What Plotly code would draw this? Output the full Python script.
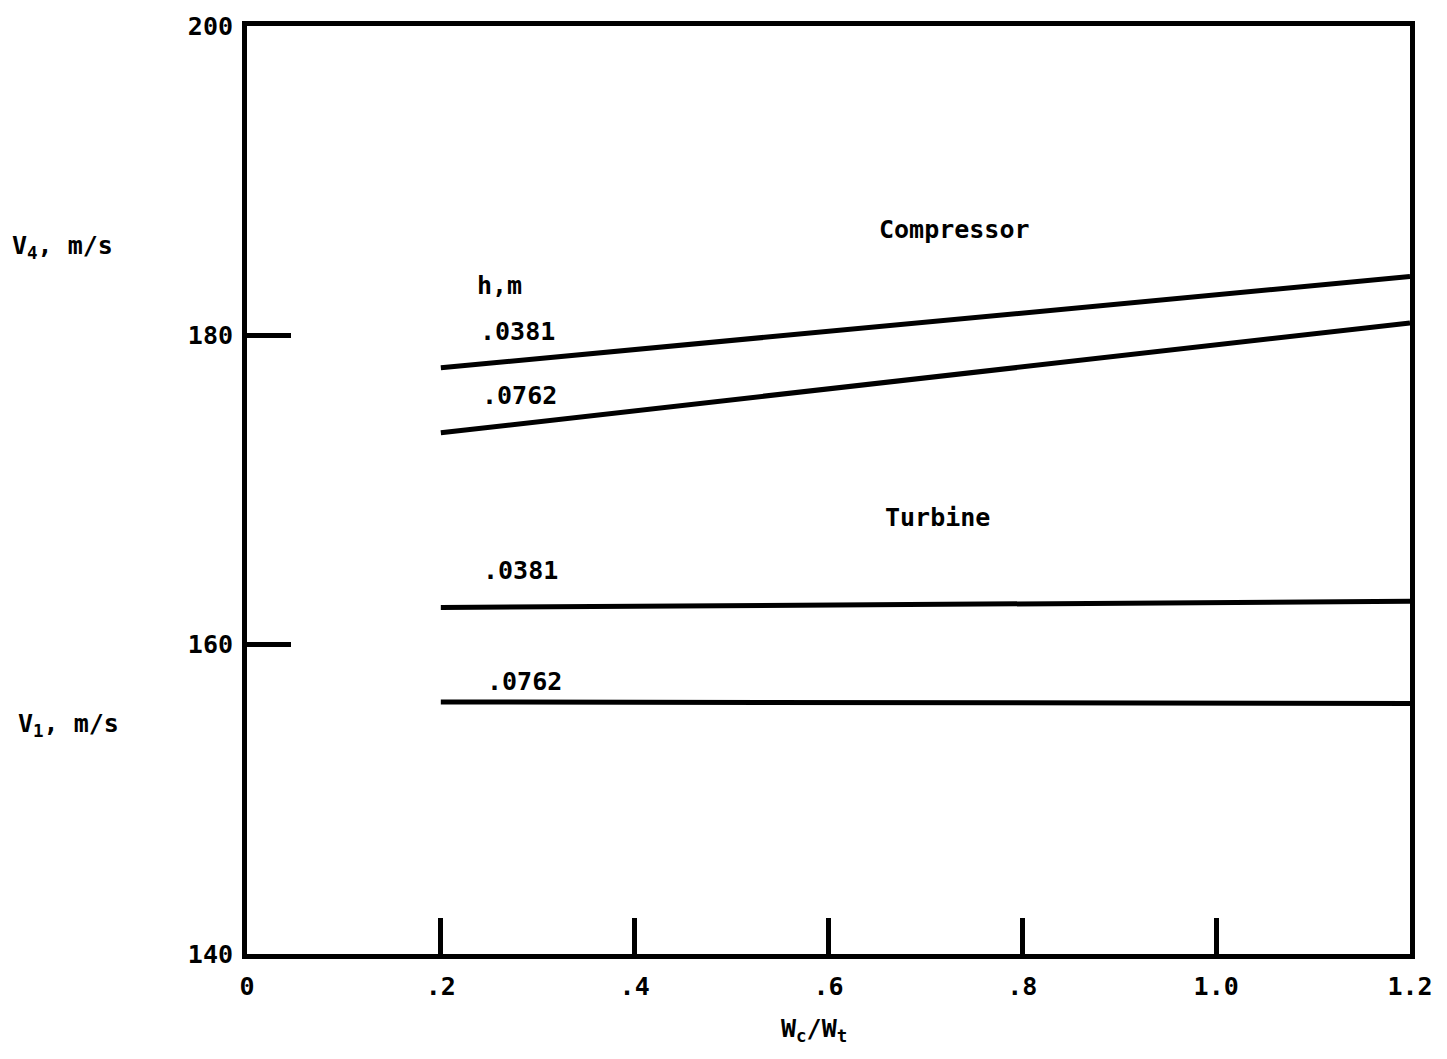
import plotly.graph_objects as go

# Flow ratio W_c/W_t
wc_wt = [0.2, 1.2]

# Compressor exit velocity V4 (m/s) for two channel heights
comp_h0381 = [177.9, 183.8]
comp_h0762 = [173.7, 180.8]

# Turbine inlet velocity V1 (m/s) for two channel heights
turb_h0381 = [162.4, 162.8]
turb_h0762 = [156.3, 156.2]

x_ticks = [0, 0.2, 0.4, 0.6, 0.8, 1.0, 1.2]
x_labels = ["0", ".2", ".4", ".6", ".8", "1.0", "1.2"]
y_ticks = [140, 160, 180, 200]
y_labels = ["140", "160", "180", "200"]

FONT = "DejaVu Sans Mono"
line_style = dict(color="black", width=5)

fig = go.Figure()
for series in (comp_h0381, comp_h0762, turb_h0381, turb_h0762):
    fig.add_trace(go.Scatter(x=wc_wt, y=series, mode="lines",
                             line=line_style, showlegend=False,
                             hoverinfo="skip"))

# Curve labels placed in data coordinates
labels = [
    ("Compressor", 0.7305, 186.85),
    ("h,m", 0.261, 183.2),
    (".0381", 0.279, 180.25),
    (".0762", 0.281, 176.1),
    ("Turbine", 0.712, 168.2),
    (".0381", 0.282, 164.8),
    (".0762", 0.286, 157.6),
]
for text, xv, yv in labels:
    fig.add_annotation(x=xv, y=yv, xref="x", yref="y", text=text,
                       showarrow=False, xanchor="center", yanchor="middle",
                       font=dict(family=FONT, size=25, color="black",
                                 weight="bold"))

W, H = 1447, 1059
ml, mr, mt, mb = 247, 37, 22, 105


def px_to_paper(px, py):
    return (px - ml) / (W - ml - mr), 1 - (py - mt) / (H - mt - mb)


# Axis titles drawn as free text
for text, px, py in [
    ("V<sub>4</sub>, m/s", 62, 244),
    ("V<sub>1</sub>, m/s", 68, 724),
    ("W<sub>c</sub>/W<sub>t</sub>", 814, 1030),
]:
    xp, yp = px_to_paper(px, py)
    fig.add_annotation(x=xp, y=yp, xref="paper", yref="paper", text=text,
                       showarrow=False, xanchor="center", yanchor="middle",
                       font=dict(family=FONT, size=25, color="black",
                                 weight="bold"))

axis_common = dict(
    showline=True, linecolor="black", linewidth=5, mirror=True,
    showgrid=False, zeroline=False,
    ticks="inside", tickcolor="black", tickwidth=5,
    tickfont=dict(family=FONT, size=25, color="black", weight="bold"),
)

fig.update_xaxes(range=[0, 1.2], tickvals=x_ticks, ticktext=x_labels,
                 ticklen=36, ticklabelstandoff=6, **axis_common)
fig.update_yaxes(range=[140, 200], tickvals=y_ticks, ticktext=y_labels,
                 ticklen=44, ticklabelstandoff=4, **axis_common)

fig.update_layout(
    width=W, height=H,
    margin=dict(l=ml, r=mr, t=mt, b=mb),
    paper_bgcolor="white", plot_bgcolor="white",
    showlegend=False,
)

fig.write_html("out.html")
